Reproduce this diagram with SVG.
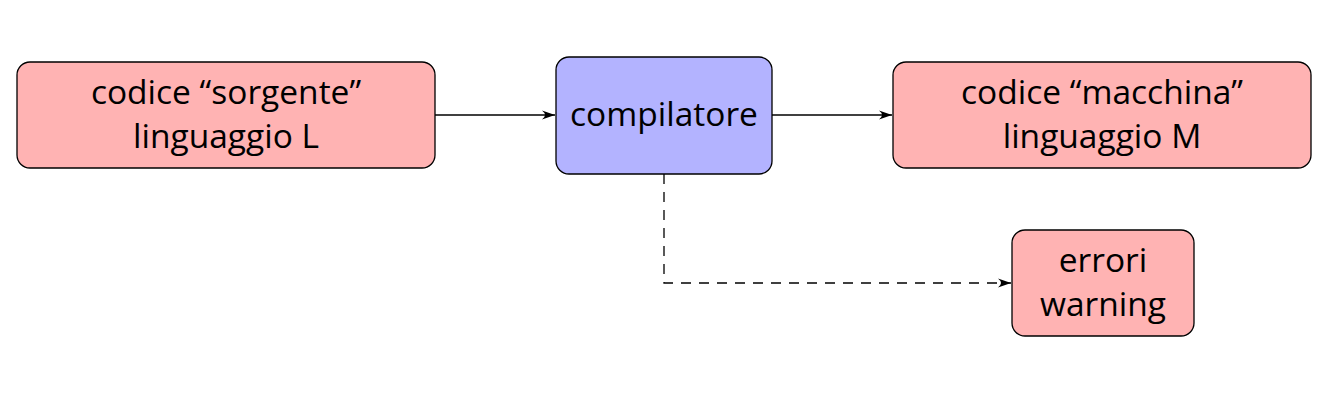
<svg xmlns="http://www.w3.org/2000/svg" width="1326" height="405" viewBox="0 0 1326 405">
<style>
.red{fill:#ffb3b3;stroke:#000;stroke-width:1.3}
.blue{fill:#b3b3ff;stroke:#000;stroke-width:1.3}
text{font-family:"Open Sans","DejaVu Sans",sans-serif;font-size:33.5px;fill:#000;text-anchor:middle}
.c{stroke:#000;stroke-width:1.3;fill:none}
</style>
<defs>
<marker id="ah" markerWidth="14" markerHeight="10" refX="13" refY="5" orient="auto" markerUnits="userSpaceOnUse">
<path d="M0,0.5 Q6,5 0,9.5 L13,5 Z" fill="#000"/>
</marker>
</defs>
<rect width="1326" height="405" fill="#fff"/>
<g id="connectors">
<line class="c" x1="435" y1="115" x2="555" y2="115" marker-end="url(#ah)"/>
<line class="c" x1="772" y1="115" x2="892" y2="115" marker-end="url(#ah)"/>
<path class="c" d="M664,174 V283 H1011" stroke-dasharray="10,8" marker-end="url(#ah)"/>
</g>
<g id="sorgente">
<rect class="red" x="17" y="62" width="418" height="106" rx="13"/>
<text x="226" y="104">codice “sorgente”</text>
<text x="226" y="148">linguaggio L</text>
</g>
<g id="compilatore">
<rect class="blue" x="556" y="57" width="216" height="117" rx="13"/>
<text x="664" y="126">compilatore</text>
</g>
<g id="macchina">
<rect class="red" x="893" y="62" width="418" height="106" rx="13"/>
<text x="1102" y="104">codice “macchina”</text>
<text x="1102" y="148">linguaggio M</text>
</g>
<g id="errori">
<rect class="red" x="1012" y="230" width="182" height="106" rx="13"/>
<text x="1103" y="272">errori</text>
<text x="1103" y="316">warning</text>
</g>
</svg>
